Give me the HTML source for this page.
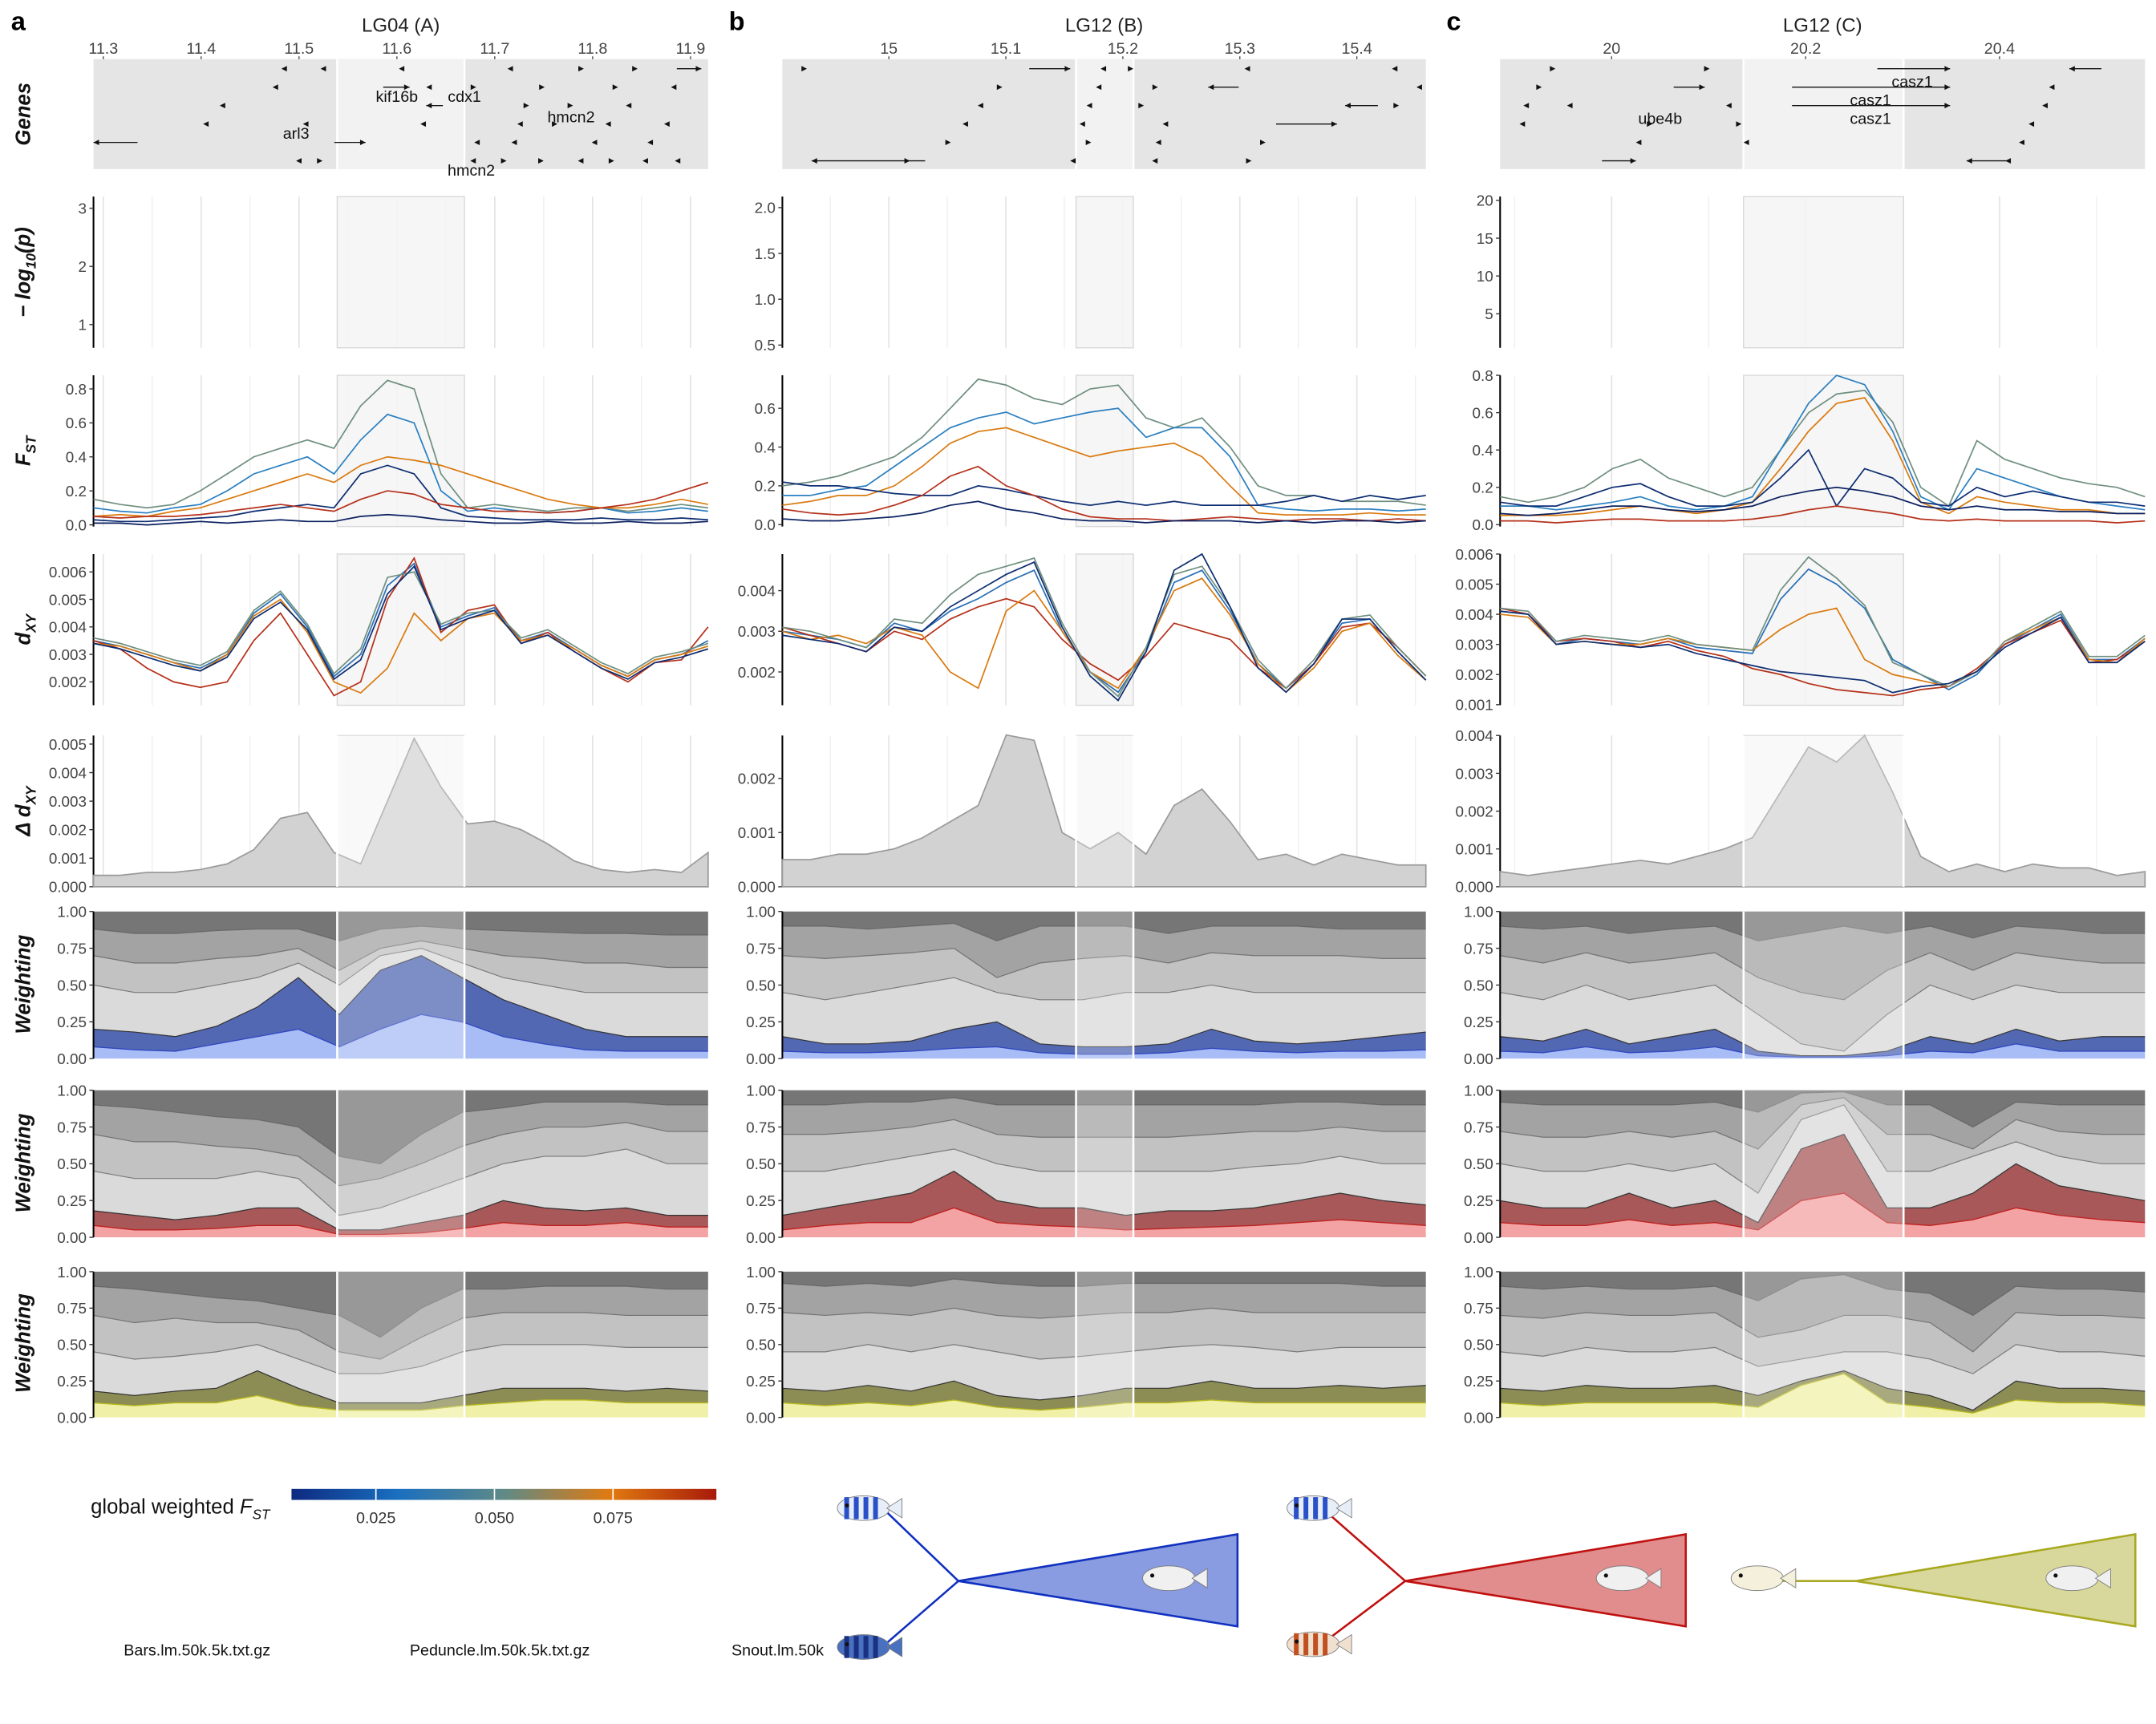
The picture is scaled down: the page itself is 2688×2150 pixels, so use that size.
<!DOCTYPE html>
<html><head><meta charset="utf-8">
<style>
html,body{margin:0;padding:0;background:#fff;}
svg{display:block;font-family:"Liberation Sans",sans-serif;}
</style></head>
<body>
<svg id="fig" width="2688" height="2150" viewBox="0 0 1568 1254" preserveAspectRatio="none" xmlns="http://www.w3.org/2000/svg"></svg>
<script>
// ===== DATA =====
const fstA = [
[0.15,0.12,0.1,0.12,0.2,0.3,0.4,0.45,0.5,0.45,0.7,0.85,0.8,0.3,0.1,0.12,0.1,0.08,0.1,0.1,0.08,0.1,0.12,0.1],
[0.1,0.08,0.07,0.1,0.12,0.2,0.3,0.35,0.4,0.3,0.5,0.65,0.6,0.2,0.08,0.1,0.08,0.07,0.08,0.1,0.07,0.08,0.1,0.08],
[0.05,0.06,0.05,0.08,0.1,0.15,0.2,0.25,0.3,0.25,0.35,0.4,0.38,0.35,0.3,0.25,0.2,0.15,0.12,0.1,0.1,0.12,0.15,0.12],
[0.03,0.02,0.02,0.03,0.04,0.05,0.08,0.1,0.12,0.1,0.3,0.35,0.3,0.1,0.05,0.04,0.03,0.03,0.03,0.04,0.03,0.03,0.04,0.03],
[0.05,0.04,0.05,0.05,0.06,0.08,0.1,0.12,0.1,0.08,0.15,0.2,0.18,0.12,0.1,0.08,0.08,0.07,0.08,0.1,0.12,0.15,0.2,0.25],
[0.01,0.01,0,0.01,0.02,0.01,0.02,0.03,0.02,0.02,0.05,0.06,0.05,0.03,0.02,0.01,0.01,0.02,0.01,0.01,0.02,0.01,0.01,0.02]];
const fstB = [
[0.2,0.22,0.25,0.3,0.35,0.45,0.6,0.75,0.72,0.65,0.62,0.7,0.72,0.55,0.5,0.55,0.4,0.2,0.15,0.15,0.12,0.12,0.12,0.1],
[0.15,0.15,0.18,0.2,0.3,0.4,0.5,0.55,0.58,0.52,0.55,0.58,0.6,0.45,0.5,0.5,0.35,0.1,0.08,0.07,0.08,0.08,0.07,0.08],
[0.1,0.12,0.15,0.15,0.2,0.3,0.42,0.48,0.5,0.45,0.4,0.35,0.38,0.4,0.42,0.35,0.2,0.06,0.05,0.05,0.05,0.06,0.05,0.05],
[0.22,0.2,0.2,0.18,0.16,0.15,0.15,0.2,0.18,0.15,0.12,0.1,0.12,0.1,0.12,0.1,0.1,0.1,0.12,0.15,0.12,0.15,0.13,0.15],
[0.08,0.06,0.05,0.06,0.1,0.15,0.25,0.3,0.2,0.15,0.08,0.04,0.03,0.03,0.02,0.03,0.04,0.03,0.02,0.03,0.03,0.02,0.03,0.02],
[0.03,0.02,0.02,0.03,0.04,0.06,0.1,0.12,0.08,0.06,0.03,0.02,0.02,0.01,0.02,0.02,0.02,0.01,0.02,0.01,0.02,0.02,0.01,0.02]];
const fstC = [
[0.15,0.12,0.15,0.2,0.3,0.35,0.25,0.2,0.15,0.2,0.4,0.6,0.7,0.72,0.55,0.2,0.1,0.45,0.35,0.3,0.25,0.22,0.2,0.15],
[0.1,0.1,0.08,0.1,0.12,0.15,0.1,0.08,0.1,0.15,0.4,0.65,0.8,0.75,0.5,0.15,0.08,0.3,0.25,0.2,0.15,0.12,0.1,0.08],
[0.05,0.05,0.05,0.06,0.08,0.1,0.08,0.06,0.08,0.12,0.3,0.5,0.65,0.68,0.45,0.12,0.06,0.15,0.12,0.1,0.08,0.08,0.06,0.06],
[0.12,0.1,0.1,0.15,0.2,0.22,0.15,0.1,0.1,0.12,0.25,0.4,0.1,0.3,0.25,0.12,0.1,0.2,0.15,0.18,0.15,0.12,0.12,0.1],
[0.02,0.02,0.01,0.02,0.03,0.03,0.02,0.02,0.02,0.03,0.05,0.08,0.1,0.08,0.06,0.03,0.02,0.03,0.02,0.02,0.02,0.02,0.01,0.02],
[0.06,0.05,0.06,0.08,0.1,0.1,0.08,0.07,0.08,0.1,0.15,0.18,0.2,0.18,0.15,0.1,0.08,0.1,0.08,0.08,0.07,0.07,0.06,0.06]];
const fstColors = ["#6f8f7f","#2a7fc0","#d97a10","#0d2d72","#b5301a","#0a2060"];

// dXY in units of 0.001
const dxyA = [
[3.5,3.3,3.0,2.7,2.5,3.0,4.5,5.2,4.0,2.2,3.0,5.5,6.3,4.0,4.4,4.7,3.5,3.8,3.2,2.6,2.2,2.8,3.0,3.5],
[3.5,3.2,2.5,2.0,1.8,2.0,3.5,4.5,3.0,1.5,2.0,5.0,6.5,3.8,4.6,4.8,3.4,3.8,3.1,2.5,2.0,2.7,2.8,4.0],
[3.4,3.3,3.0,2.7,2.4,3.0,4.4,5.0,3.8,2.0,1.6,2.5,4.5,3.5,4.3,4.5,3.5,3.7,3.2,2.6,2.2,2.8,3.0,3.3],
[3.6,3.4,3.1,2.8,2.6,3.1,4.6,5.3,4.1,2.3,3.2,5.8,6.0,4.1,4.5,4.6,3.6,3.9,3.3,2.7,2.3,2.9,3.1,3.4],
[3.4,3.2,2.9,2.6,2.4,2.9,4.3,4.9,3.9,2.1,2.8,5.2,6.2,3.9,4.3,4.6,3.4,3.7,3.1,2.5,2.1,2.7,2.9,3.2]];
const dxyB = [
[3.0,2.9,2.8,2.6,3.2,3.0,3.5,3.8,4.2,4.5,3.0,2.0,1.5,2.5,4.2,4.5,3.5,2.2,1.6,2.2,3.2,3.3,2.5,1.8],
[3.1,2.9,2.7,2.5,3.0,2.8,3.3,3.6,3.8,3.6,2.8,2.2,1.8,2.4,3.2,3.0,2.8,2.1,1.6,2.2,3.1,3.2,2.6,1.9],
[3.0,2.8,2.9,2.7,3.1,2.9,2.0,1.6,3.5,4.0,3.0,2.0,1.6,2.6,4.0,4.3,3.4,2.2,1.5,2.1,3.0,3.2,2.4,1.8],
[3.1,3.0,2.8,2.6,3.3,3.2,3.9,4.4,4.6,4.8,3.2,2.0,1.4,2.6,4.4,4.6,3.6,2.3,1.6,2.3,3.3,3.4,2.6,1.9],
[2.9,2.8,2.7,2.5,3.1,3.0,3.6,4.0,4.4,4.7,3.1,1.9,1.3,2.5,4.5,4.9,3.6,2.1,1.5,2.2,3.3,3.3,2.5,1.8]];
const dxyC = [
[4.1,4.0,3.0,3.2,3.1,3.0,3.2,2.9,2.8,2.7,4.5,5.5,5.0,4.2,2.5,2.0,1.5,2.0,3.0,3.5,4.0,2.5,2.5,3.2],
[4.2,4.0,3.1,3.2,3.1,2.9,3.1,2.8,2.6,2.2,2.0,1.7,1.5,1.4,1.3,1.5,1.6,2.2,3.0,3.4,3.8,2.4,2.5,3.1],
[4.0,3.9,3.0,3.1,3.0,3.0,3.2,3.0,2.9,2.8,3.5,4.0,4.2,2.5,2.0,1.8,1.6,2.1,3.1,3.5,3.9,2.5,2.4,3.2],
[4.2,4.1,3.1,3.3,3.2,3.1,3.3,3.0,2.9,2.8,4.8,5.9,5.2,4.3,2.4,2.0,1.6,2.1,3.1,3.6,4.1,2.6,2.6,3.3],
[4.1,4.0,3.0,3.1,3.0,2.9,3.0,2.7,2.5,2.3,2.1,2.0,1.9,1.8,1.4,1.6,1.7,2.1,2.9,3.4,3.9,2.4,2.4,3.1]];
const dxyColors = ["#2a6fb5","#b5301a","#d97a10","#6f8f7f","#0d2d72"];

const ddxyA = [0.4,0.4,0.5,0.5,0.6,0.8,1.3,2.4,2.6,1.2,0.8,3.0,5.2,3.5,2.2,2.3,2.0,1.5,0.9,0.6,0.5,0.6,0.5,1.2];
const ddxyB = [0.5,0.5,0.6,0.6,0.7,0.9,1.2,1.5,2.8,2.7,1.0,0.7,1.0,0.6,1.5,1.8,1.2,0.5,0.6,0.4,0.6,0.5,0.4,0.4];
const ddxyC = [0.4,0.3,0.4,0.5,0.6,0.7,0.6,0.8,1.0,1.3,2.5,3.7,3.3,4.0,2.5,0.8,0.4,0.6,0.4,0.6,0.5,0.5,0.3,0.4];

// weightings: [outer, inner, b1, b2, b3]
const wA1 = [[0.2,0.18,0.15,0.22,0.35,0.55,0.3,0.6,0.7,0.55,0.4,0.3,0.2,0.15,0.15,0.15],[0.08,0.06,0.05,0.1,0.15,0.2,0.08,0.2,0.3,0.25,0.15,0.1,0.06,0.05,0.05,0.05],[0.5,0.45,0.45,0.5,0.55,0.65,0.5,0.7,0.75,0.65,0.55,0.5,0.45,0.45,0.45,0.45],[0.7,0.65,0.65,0.68,0.7,0.75,0.6,0.75,0.8,0.75,0.7,0.68,0.65,0.65,0.62,0.62],[0.88,0.85,0.85,0.87,0.88,0.88,0.8,0.88,0.9,0.88,0.87,0.86,0.85,0.85,0.84,0.84]];
const wA2 = [[0.18,0.15,0.12,0.15,0.2,0.2,0.05,0.05,0.1,0.15,0.25,0.2,0.18,0.2,0.15,0.15],[0.08,0.05,0.05,0.06,0.08,0.08,0.02,0.02,0.03,0.06,0.1,0.08,0.08,0.1,0.07,0.07],[0.45,0.4,0.4,0.4,0.45,0.4,0.15,0.2,0.3,0.4,0.5,0.55,0.55,0.6,0.5,0.5],[0.7,0.65,0.65,0.62,0.6,0.55,0.35,0.4,0.5,0.62,0.7,0.75,0.75,0.78,0.72,0.72],[0.9,0.88,0.85,0.82,0.8,0.75,0.55,0.5,0.7,0.85,0.88,0.92,0.92,0.92,0.9,0.9]];
const wA3 = [[0.18,0.15,0.18,0.2,0.32,0.2,0.1,0.1,0.1,0.15,0.2,0.2,0.2,0.18,0.2,0.18],[0.1,0.08,0.1,0.1,0.15,0.08,0.05,0.05,0.05,0.08,0.1,0.12,0.12,0.1,0.1,0.1],[0.45,0.4,0.42,0.45,0.5,0.4,0.3,0.3,0.35,0.45,0.5,0.5,0.5,0.48,0.48,0.48],[0.7,0.65,0.68,0.65,0.65,0.6,0.45,0.4,0.55,0.68,0.72,0.72,0.72,0.7,0.7,0.7],[0.9,0.88,0.85,0.82,0.8,0.75,0.7,0.55,0.75,0.88,0.88,0.9,0.9,0.9,0.88,0.88]];
const wB1 = [[0.15,0.1,0.1,0.12,0.2,0.25,0.1,0.08,0.08,0.1,0.2,0.12,0.1,0.12,0.15,0.18],[0.05,0.04,0.04,0.05,0.07,0.08,0.04,0.03,0.03,0.04,0.07,0.05,0.04,0.05,0.05,0.06],[0.45,0.4,0.45,0.5,0.55,0.45,0.4,0.4,0.45,0.45,0.5,0.45,0.45,0.45,0.45,0.45],[0.7,0.68,0.7,0.72,0.75,0.55,0.65,0.68,0.7,0.65,0.72,0.7,0.7,0.7,0.68,0.68],[0.9,0.9,0.88,0.9,0.92,0.8,0.9,0.9,0.9,0.85,0.9,0.9,0.9,0.88,0.88,0.88]];
const wB2 = [[0.15,0.2,0.25,0.3,0.45,0.25,0.2,0.2,0.15,0.18,0.18,0.2,0.25,0.3,0.25,0.22],[0.05,0.08,0.1,0.1,0.2,0.1,0.08,0.07,0.05,0.06,0.07,0.08,0.1,0.12,0.1,0.08],[0.45,0.45,0.5,0.55,0.6,0.5,0.45,0.45,0.45,0.45,0.45,0.48,0.5,0.55,0.5,0.5],[0.7,0.7,0.72,0.75,0.8,0.7,0.68,0.68,0.68,0.68,0.7,0.72,0.72,0.75,0.72,0.72],[0.9,0.9,0.92,0.92,0.95,0.9,0.9,0.9,0.9,0.9,0.9,0.9,0.92,0.92,0.9,0.9]];
const wB3 = [[0.2,0.18,0.22,0.18,0.25,0.15,0.12,0.15,0.2,0.2,0.25,0.2,0.2,0.22,0.2,0.22],[0.1,0.08,0.1,0.08,0.12,0.07,0.05,0.07,0.1,0.1,0.12,0.1,0.1,0.1,0.1,0.1],[0.45,0.45,0.5,0.45,0.5,0.45,0.4,0.42,0.45,0.48,0.5,0.48,0.45,0.48,0.48,0.48],[0.72,0.7,0.72,0.7,0.75,0.7,0.68,0.7,0.72,0.72,0.75,0.72,0.72,0.72,0.72,0.72],[0.92,0.9,0.92,0.9,0.95,0.92,0.9,0.9,0.92,0.92,0.92,0.92,0.92,0.92,0.9,0.9]];
const wC1 = [[0.15,0.12,0.2,0.1,0.15,0.2,0.05,0.02,0.02,0.05,0.15,0.1,0.2,0.12,0.15,0.15],[0.05,0.04,0.08,0.04,0.05,0.08,0.02,0.01,0.01,0.02,0.05,0.04,0.1,0.05,0.05,0.05],[0.45,0.4,0.5,0.4,0.45,0.5,0.3,0.1,0.05,0.3,0.5,0.4,0.5,0.45,0.45,0.45],[0.7,0.65,0.72,0.65,0.68,0.72,0.55,0.45,0.4,0.6,0.72,0.6,0.72,0.68,0.65,0.65],[0.9,0.88,0.9,0.85,0.88,0.9,0.8,0.85,0.9,0.85,0.9,0.82,0.9,0.88,0.85,0.85]];
const wC2 = [[0.25,0.2,0.2,0.3,0.2,0.25,0.1,0.6,0.7,0.2,0.2,0.3,0.5,0.35,0.3,0.25],[0.1,0.08,0.08,0.12,0.08,0.1,0.05,0.25,0.3,0.1,0.08,0.12,0.2,0.15,0.12,0.1],[0.5,0.45,0.45,0.5,0.45,0.5,0.3,0.8,0.9,0.45,0.45,0.55,0.65,0.55,0.5,0.5],[0.72,0.68,0.68,0.72,0.68,0.72,0.6,0.9,0.95,0.7,0.7,0.6,0.8,0.72,0.7,0.7],[0.92,0.9,0.9,0.9,0.9,0.92,0.85,0.98,0.99,0.9,0.9,0.75,0.92,0.9,0.9,0.9]];
const wC3 = [[0.2,0.18,0.22,0.2,0.2,0.22,0.15,0.25,0.32,0.2,0.15,0.05,0.25,0.2,0.2,0.18],[0.1,0.08,0.1,0.1,0.1,0.1,0.07,0.22,0.3,0.1,0.07,0.03,0.12,0.1,0.1,0.08],[0.45,0.42,0.48,0.45,0.45,0.48,0.35,0.4,0.45,0.45,0.4,0.3,0.5,0.45,0.45,0.42],[0.7,0.68,0.72,0.7,0.7,0.72,0.55,0.6,0.7,0.7,0.65,0.45,0.72,0.7,0.7,0.68],[0.9,0.88,0.9,0.88,0.88,0.9,0.8,0.95,0.98,0.88,0.85,0.7,0.9,0.88,0.88,0.86]];

// genes: [start, end, row, dir(1 right,-1 left)]
const genesA = [[11.29,11.335,4,-1],[11.536,11.568,4,1],[11.886,11.911,0,1],[11.586,11.613,1,1],[11.630,11.647,2,-1],
[11.482,11.484,0,-1],[11.522,11.524,0,-1],[11.602,11.604,0,-1],[11.713,11.715,0,-1],[11.789,11.791,0,1],[11.844,11.846,0,1],
[11.473,11.475,1,-1],[11.630,11.632,1,-1],[11.679,11.681,1,1],[11.749,11.751,1,1],[11.824,11.826,1,1],[11.880,11.882,1,-1],
[11.419,11.421,2,-1],[11.733,11.735,2,1],[11.778,11.780,2,1],[11.834,11.836,2,-1],
[11.402,11.404,3,-1],[11.504,11.506,3,-1],[11.624,11.626,3,-1],[11.723,11.725,3,-1],[11.762,11.764,3,1],[11.813,11.815,3,-1],[11.873,11.875,3,-1],
[11.679,11.681,4,-1],[11.717,11.719,4,-1],[11.799,11.801,4,-1],[11.856,11.858,4,-1],
[11.497,11.499,5,-1],[11.522,11.524,5,1],[11.675,11.677,5,-1],[11.710,11.712,5,1],[11.748,11.750,5,1],[11.785,11.787,5,-1],[11.820,11.822,5,1],[11.851,11.853,5,-1],[11.884,11.886,5,-1]];
const genesB = [[15.120,15.155,0,1],[15.273,15.299,1,-1],[15.390,15.418,2,-1],[15.331,15.383,3,1],[14.934,15.031,5,-1],
[14.928,14.930,0,1],[15.181,15.183,0,-1],[15.207,15.209,0,1],[15.304,15.306,0,-1],[15.430,15.432,0,-1],
[15.095,15.097,1,1],[15.177,15.179,1,-1],[15.228,15.230,1,1],[15.451,15.453,1,-1],
[15.076,15.078,2,-1],[15.169,15.171,2,-1],[15.216,15.218,2,1],[15.434,15.436,2,1],
[15.063,15.065,3,-1],[15.163,15.165,3,-1],[15.234,15.236,3,-1],
[15.051,15.053,4,1],[15.171,15.173,4,1],[15.228,15.230,4,-1],[15.320,15.322,4,1],
[15.016,15.018,5,1],[15.155,15.157,5,-1],[15.225,15.227,5,-1],[15.308,15.310,5,1]];
const genesC = [[20.274,20.349,0,1],[20.186,20.349,1,1],[20.186,20.349,2,1],[20.064,20.096,1,1],[19.990,20.025,5,1],[20.366,20.411,5,-1],[20.472,20.505,0,-1],
[19.940,19.942,0,1],[20.099,20.101,0,1],[19.926,19.928,1,1],[19.909,19.911,2,-1],[19.954,19.956,2,-1],[20.118,20.120,2,-1],
[19.905,19.907,3,-1],[20.040,20.042,3,1],[20.132,20.134,3,1],[20.025,20.027,4,-1],[20.136,20.138,4,-1],
[20.451,20.453,1,-1],[20.444,20.446,2,-1],[20.430,20.432,3,-1],[20.420,20.422,4,-1],[20.406,20.408,5,-1]];
const geneLabelsA = [["kif16b",11.6,1.5],["cdx1",11.669,1.5],["arl3",11.497,3.5],["hmcn2",11.778,2.6],["hmcn2",11.676,5.5]];
const geneLabelsB = [];
const geneLabelsC = [["casz1",20.31,0.7],["casz1",20.267,1.7],["casz1",20.267,2.7],["ube4b",20.05,2.7]];

const tickA = [11.3,11.4,11.5,11.6,11.7,11.8,11.9];
const tickB = [15,15.1,15.2,15.3,15.4];
const tickC = [20,20.2,20.4];
const colorbarTicks = [0.025,0.050,0.075];

// ===== LAYOUT =====
const NS="http://www.w3.org/2000/svg";
const svg=document.getElementById('fig');
function mk(tag,attrs,parent){const e=document.createElementNS(NS,tag);for(const k in attrs)e.setAttribute(k,attrs[k]);(parent||svg).appendChild(e);return e;}
function txt(s,attrs,parent){const e=mk('text',attrs,parent);e.textContent=s;return e;}

const cols=[
 {id:'a',x0:68,x1:515,d0:11.29,d1:11.918,hl:[11.539,11.669],ticks:tickA,fmt:v=>v.toFixed(1),title:'LG04 (A)',fst:fstA,dxy:dxyA,dd:ddxyA,w:[wA1,wA2,wA3],genes:genesA,gl:geneLabelsA,
  p:{min:0.6,max:3.2,t:[1,2,3],f:v=>String(v)},fy:{max:0.88,t:[0,0.2,0.4,0.6,0.8],f:v=>v.toFixed(1)},dy:{min:1.15,max:6.65,t:[2,3,4,5,6],f:v=>(v/1000).toFixed(3)},ddy:{max:5.3,t:[0,1,2,3,4,5],f:v=>(v/1000).toFixed(3)}},
 {id:'b',x0:569,x1:1037,d0:14.909,d1:15.459,hl:[15.16,15.209],ticks:tickB,fmt:v=>String(v),title:'LG12 (B)',fst:fstB,dxy:dxyB,dd:ddxyB,w:[wB1,wB2,wB3],genes:genesB,gl:geneLabelsB,
  p:{min:0.47,max:2.12,t:[0.5,1.0,1.5,2.0],f:v=>v.toFixed(1)},fy:{max:0.77,t:[0,0.2,0.4,0.6],f:v=>v.toFixed(1)},dy:{min:1.18,max:4.9,t:[2,3,4],f:v=>(v/1000).toFixed(3)},ddy:{max:2.79,t:[0,1,2],f:v=>(v/1000).toFixed(3)}},
 {id:'c',x0:1091,x1:1560,d0:19.885,d1:20.55,hl:[20.136,20.301],ticks:tickC,fmt:v=>String(Math.round(v*10)/10),title:'LG12 (C)',fst:fstC,dxy:dxyC,dd:ddxyC,w:[wC1,wC2,wC3],genes:genesC,gl:geneLabelsC,
  p:{min:0.5,max:20.5,t:[5,10,15,20],f:v=>String(v)},fy:{max:0.8,t:[0,0.2,0.4,0.6,0.8],f:v=>v.toFixed(1)},dy:{min:0.98,max:6.0,t:[1,2,3,4,5,6],f:v=>(v/1000).toFixed(3)},ddy:{max:4.0,t:[0,1,2,3,4],f:v=>(v/1000).toFixed(3)}}
];
const rows={genes:[43,123],p:[143,253],fst:[273,383],dxy:[403,513],dd:[535,645],w:[[663,770],[793,900],[925,1031]]};
const wColors=[["#5268b3","#a8bcf5","#3048c0"],["#a85858","#f3a3a3","#c02020"],["#8c8c55","#f0f0a8","#b8b820"]];
const greyBands=["#dadada","#c2c2c2","#a3a3a3","#767676"];

function yScale(r,min,max){return v=>r[1]-(v-min)/(max-min)*(r[1]-r[0]);}

cols.forEach(c=>{
 const X=v=>c.x0+(v-c.d0)/(c.d1-c.d0)*(c.x1-c.x0);
 const xi=(i,n)=>X(c.d0+i*(c.d1-c.d0)/(n-1));
 const hx0=X(c.hl[0]),hx1=X(c.hl[1]);
 const g=mk('g',{});
 
 
 const lab=txt(c.id,{x:c.x0-60+ (c.id==='a'?0:0),y:22,'font-size':19,'font-weight':'bold'},g);
 lab.setAttribute('x', c.id==='a'?8:c.x0-39);
 
 
 const tt=txt(c.title,{x:(c.x0+c.x1)/2,y:23,'font-size':14,'text-anchor':'middle',fill:'#222'},g);
 
 
 // top ticks
 c.ticks.forEach(t=>{
  const l=txt(c.fmt(t),{x:X(t),y:39,'font-size':11.5,'text-anchor':'middle',fill:'#444'},g);
  
  
  mk('line',{x1:X(t),x2:X(t),y1:41,y2:44,stroke:'#444','stroke-width':0.8},g);
 });
 // genes panel
 const gb=mk('rect',{x:c.x0,y:rows.genes[0],width:c.x1-c.x0,height:80,fill:'#e5e5e5'},g);
 
 
 mk('rect',{x:hx0,y:rows.genes[0],width:hx1-hx0,height:80,fill:'#f2f2f2'},g);
 mk('line',{x1:hx0,x2:hx0,y1:43,y2:123,stroke:'#fff','stroke-width':1.5},g);
 mk('line',{x1:hx1,x2:hx1,y1:43,y2:123,stroke:'#fff','stroke-width':1.5},g);
 const rowY=r=>50+r*13.4;
 c.genes.forEach(ge=>{
  const y=rowY(ge[2]);let a=X(ge[0]),b=X(ge[1]);
  const gg=mk('g',{},g);
  
  
  if(b-a>3) mk('line',{x1:a,x2:b,y1:y,y2:y,stroke:'#111','stroke-width':0.8},gg);
  const tip=ge[3]>0?b:a, d=ge[3];
  mk('path',{d:`M${tip},${y} L${tip-d*4},${y-2} L${tip-d*4},${y+2} Z`,fill:'#111'},gg);
 });
 c.gl.forEach(l=>{
  const t=txt(l[0],{x:X(l[1]),y:rowY(l[2])+4,'font-size':11.5,'text-anchor':'middle',fill:'#111'},g);
  
  
 });
 // generic panel
 function panel(r,name,yfn,ticks,fmt,grid){
  const pg=mk('g',{},g);
  
  
  if(grid){
   c.ticks.forEach((t,i)=>{
    mk('line',{x1:X(t),x2:X(t),y1:r[0],y2:r[1],stroke:'#e4e4e4','stroke-width':1},pg);
   });
   const step=c.ticks[1]-c.ticks[0];
   for(let t=c.ticks[0]-step/2;t<c.d1;t+=step){ if(t>c.d0) mk('line',{x1:X(t),x2:X(t),y1:r[0],y2:r[1],stroke:'#efefef','stroke-width':0.8},pg);}
   mk('rect',{x:hx0,y:r[0],width:hx1-hx0,height:r[1]-r[0],fill:'#f4f4f4','fill-opacity':0.85,stroke:'#d8d8d8','stroke-width':0.8},pg);
  }
  mk('line',{x1:c.x0,x2:c.x0,y1:r[0],y2:r[1],stroke:'#000','stroke-width':1.2},pg);
  ticks.forEach(t=>{
   const y=yfn(t);
   mk('line',{x1:c.x0-3,x2:c.x0,y1:y,y2:y,stroke:'#333','stroke-width':0.8},pg);
   const l=txt(fmt(t),{x:c.x0-5,y:y+4,'font-size':11,'text-anchor':'end',fill:'#444'},pg);
   
   
  });
  return pg;
 }
 // p-value
 const yp=yScale(rows.p,c.p.min,c.p.max);
 panel(rows.p,'pvalue',yp,c.p.t,c.p.f,true);
 // FST
 const yf=yScale(rows.fst,-0.01,c.fy.max);
 const pf=panel(rows.fst,'fst',yf,c.fy.t,c.fy.f,true);
 c.fst.forEach((s,k)=>{
  const d=s.map((v,i)=>(i?'L':'M')+xi(i,s.length).toFixed(1)+','+yf(v).toFixed(1)).join('');
  const p=mk('path',{d,fill:'none',stroke:fstColors[k%fstColors.length],'stroke-width':1},pf);
  
  
 });
 // dXY
 const yd=yScale(rows.dxy,c.dy.min,c.dy.max);
 const pd=panel(rows.dxy,'dxy',yd,c.dy.t,c.dy.f,true);
 c.dxy.forEach((s,k)=>{
  const d=s.map((v,i)=>(i?'L':'M')+xi(i,s.length).toFixed(1)+','+yd(v).toFixed(1)).join('');
  const p=mk('path',{d,fill:'none',stroke:dxyColors[k%dxyColors.length],'stroke-width':1},pd);
  
  
 });
 // delta dXY
 const ydd=yScale(rows.dd,0,c.ddy.max);
 const pdd=panel(rows.dd,'delta-dxy',ydd,c.ddy.t,c.ddy.f,true);
 {
  const s=c.dd;
  let d='M'+xi(0,s.length)+','+ydd(0);
  s.forEach((v,i)=>{d+='L'+xi(i,s.length).toFixed(1)+','+ydd(v).toFixed(1);});
  d+='L'+xi(s.length-1,s.length)+','+ydd(0)+'Z';
  const a=mk('path',{d,fill:'#d2d2d2',stroke:'#9a9a9a','stroke-width':1},pdd);
  
  
  mk('rect',{x:hx0,y:rows.dd[0],width:hx1-hx0,height:110,fill:'#fff','fill-opacity':0.3},pdd);
  mk('line',{x1:hx0,x2:hx0,y1:rows.dd[0],y2:rows.dd[1],stroke:'#fff','stroke-width':1.5},pdd);
  mk('line',{x1:hx1,x2:hx1,y1:rows.dd[0],y2:rows.dd[1],stroke:'#fff','stroke-width':1.5},pdd);
 }
 // weightings
 c.w.forEach((W,ri)=>{
  const r=rows.w[ri];
  const yw=yScale(r,0,1);
  const pw=mk('g',{},g);
  
  
  const n=W[0].length;
  const band=(lo,hi,fill,name)=>{
   let d='';
   for(let i=0;i<n;i++)d+=(i?'L':'M')+xi(i,n).toFixed(1)+','+yw(hi?hi[i]:1).toFixed(1);
   for(let i=n-1;i>=0;i--)d+='L'+xi(i,n).toFixed(1)+','+yw(lo?lo[i]:0).toFixed(1);
   const p=mk('path',{d:d+'Z',fill,stroke:'none'},pw);
   
   
  };
  band(W[4],null,greyBands[3],'topology-band');
  band(W[3],W[4],greyBands[2],'topology-band');
  band(W[2],W[3],greyBands[1],'topology-band');
  band(W[0],W[2],greyBands[0],'topology-band');
  band(W[1],W[0],wColors[ri][0],'focal-topology-band');
  band(null,W[1],wColors[ri][1],'focal-topology-inner');
  [W[2],W[3],W[4]].forEach(s=>{
   mk('path',{d:s.map((v,i)=>(i?'L':'M')+xi(i,n).toFixed(1)+','+yw(v).toFixed(1)).join(''),fill:'none',stroke:'#555','stroke-width':0.7,'stroke-opacity':0.7},pw);
  });
  mk('path',{d:W[1].map((v,i)=>(i?'L':'M')+xi(i,n).toFixed(1)+','+yw(v).toFixed(1)).join(''),fill:'none',stroke:wColors[ri][2],'stroke-width':0.8},pw);
  mk('path',{d:W[0].map((v,i)=>(i?'L':'M')+xi(i,n).toFixed(1)+','+yw(v).toFixed(1)).join(''),fill:'none',stroke:'#333','stroke-width':0.7},pw);
  mk('rect',{x:hx0,y:r[0],width:hx1-hx0,height:r[1]-r[0],fill:'#fff','fill-opacity':0.25},pw);
  mk('line',{x1:hx0,x2:hx0,y1:r[0],y2:r[1],stroke:'#fff','stroke-width':1.5},pw);
  mk('line',{x1:hx1,x2:hx1,y1:r[0],y2:r[1],stroke:'#fff','stroke-width':1.5},pw);
  mk('line',{x1:c.x0,x2:c.x0,y1:r[0],y2:r[1],stroke:'#000','stroke-width':1.2},pw);
  [0,0.25,0.5,0.75,1].forEach(t=>{
   const y=yw(t);
   mk('line',{x1:c.x0-3,x2:c.x0,y1:y,y2:y,stroke:'#333','stroke-width':0.8},pw);
   const l=txt(t.toFixed(2),{x:c.x0-5,y:y+4,'font-size':11,'text-anchor':'end',fill:'#444'},pw);
   
   
  });
 });
});

// row titles
function rowTitle(y,html,name){
 const t=mk('text',{transform:`translate(22,${y}) rotate(-90)`,'font-size':15,'font-weight':'bold','font-style':'italic','text-anchor':'middle',fill:'#111'});
 t.innerHTML=html;
 
 
}
rowTitle(83,'Genes','genes-axis-title');
rowTitle(198,'− log<tspan font-size="10" dy="4">10</tspan><tspan dy="-4">(p)</tspan>','pvalue-axis-title');
rowTitle(328,'F<tspan font-size="10" dy="4">ST</tspan>','fst-axis-title');
rowTitle(458,'d<tspan font-size="10" dy="4">XY</tspan>','dxy-axis-title');
rowTitle(590,'Δ d<tspan font-size="10" dy="4">XY</tspan>','delta-dxy-axis-title');
rowTitle(716,'Weighting','weighting-axis-title-1');
rowTitle(846,'Weighting','weighting-axis-title-2');
rowTitle(977,'Weighting','weighting-axis-title-3');

// legend colorbar
const lg=mk('g',{});


const lt=mk('text',{x:66,y:1101,'font-size':15,fill:'#111'},lg);
lt.innerHTML='global weighted <tspan font-style="italic">F</tspan><tspan font-style="italic" font-size="10" dy="4">ST</tspan>';
const defs=mk('defs',{});
const grad=mk('linearGradient',{id:'cb',x1:0,x2:1,y1:0,y2:0},defs);
[["0","#0d2a80"],["0.25","#1a6fc0"],["0.5","#5f8a86"],["0.75","#e07a10"],["1","#a81a0a"]].forEach(s=>mk('stop',{offset:s[0],'stop-color':s[1]},grad));
mk('rect',{x:212,y:1083,width:309,height:8,fill:'url(#cb)'},lg);
const cbX=v=>212+(v-0.0072)/(0.0968-0.0072)*309;
colorbarTicks.forEach(v=>{
 mk('line',{x1:cbX(v),x2:cbX(v),y1:1083,y2:1091,stroke:'#fff','stroke-width':1},lg);
 const l=txt(v.toFixed(3),{x:cbX(v),y:1108,'font-size':11.5,'text-anchor':'middle',fill:'#333'},lg);
 
 
});
[["Bars.lm.50k.5k.txt.gz",90],["Peduncle.lm.50k.5k.txt.gz",298],["Snout.lm.50k",532]].forEach(f=>{
 const t=txt(f[0],{x:f[1],y:1204,'font-size':11.5,fill:'#111'});
 
 
});

// trees
function fish(cx,cy,body,stripe,name){
 const f=mk('g',{});
 
 
 mk('ellipse',{cx,cy,rx:19,ry:9,fill:body,stroke:'#777','stroke-width':0.5},f);
 mk('path',{d:`M${cx+17},${cy} L${cx+28},${cy-7} L${cx+28},${cy+7} Z`,fill:body,stroke:'#777','stroke-width':0.5},f);
 if(stripe){for(let k=-2;k<=1;k++) mk('rect',{x:cx+k*7,y:cy-8,width:3.5,height:16,fill:stripe},f);}
 mk('circle',{cx:cx-12,cy:cy-2,r:1.5,fill:'#111'},f);
}
function tree(name,lines,tri,fill,stroke){
 const t=mk('g',{});
 
 
 lines.forEach(l=>mk('line',{x1:l[0],y1:l[1],x2:l[2],y2:l[3],stroke,'stroke-width':1.5},t));
 mk('polygon',{points:tri,fill,'fill-opacity':0.55,stroke,'stroke-width':1.5},t);
}
tree('tree-blue',[[645,1100,697,1150],[645,1195,697,1150]],'697,1150 900,1116 900,1183','#2848c8','#1030c0');
tree('tree-red',[[965,1100,1022,1150],[965,1193,1022,1150]],'1022,1150 1226,1116 1226,1183','#c83030','#c01010');
tree('tree-yellow',[[1290,1150,1350,1150]],'1350,1150 1553,1116 1553,1183','#b8b84a','#a8a820');
fish(628,1097,'#e8eef8','#2a50c8','fish-blue-barred');
fish(628,1198,'#4a70c0','#1a3080','fish-blue-snout');
fish(850,1148,'#f0f0f0',null,'fish-outgroup-1');
fish(955,1097,'#e8eef8','#2a50c8','fish-red-1');
fish(955,1196,'#f0e0d0','#c05020','fish-red-2');
fish(1180,1148,'#f0f0f0',null,'fish-outgroup-2');
fish(1278,1148,'#f4f0dc',null,'fish-yellow');
fish(1507,1148,'#f0f0f0',null,'fish-outgroup-3');
</script>
</body></html>
